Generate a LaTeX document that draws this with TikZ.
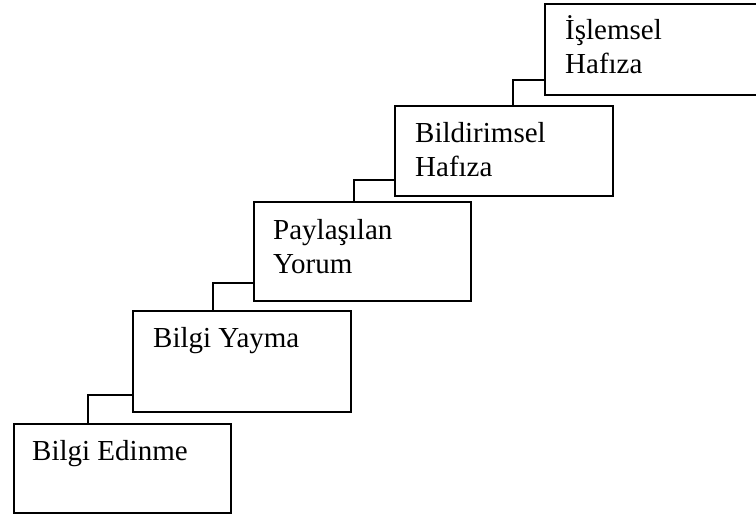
\documentclass[tikz,border=0pt]{standalone}
\usepackage{fontspec}
\setmainfont{Liberation Serif}
\usetikzlibrary{calc}
\begin{document}
\begin{tikzpicture}[x=1pt, y=-1pt,
  stage/.style={draw=black, line width=2.3pt, inner sep=0pt, anchor=north west,
    minimum width=217pt},
  lbl/.style={anchor=base west, inner sep=0pt, align=left,
    font=\fontsize{29pt}{34pt}\selectfont},
  link/.style={draw=black, line width=2.3pt}]
  \clip (0,0) rectangle (756,519);
  \fill[white] (0,0) rectangle (756,519);

  % stair of stage boxes, lowest first
  \node[stage, minimum height=89pt]  (b1) at (13,423) {};
  \node[stage, minimum height=101pt, minimum width=218pt] (b2) at (132,310) {};
  \node[stage, minimum height=99pt]  (b3) at (253,201) {};
  \node[stage, minimum height=90pt, minimum width=218pt]  (b4) at (394,105) {};
  \node[stage, minimum height=91pt]  (b5) at (544,3) {};

  % labels (two-line labels sit on the baseline of their last line)
  \node[lbl] (t1) at ($(b1.north west)+(19pt,-37pt)$) {Bilgi Edinme};
  \node[lbl] (t2) at ($(b2.north west)+(21pt,-37pt)$) {Bilgi Yayma};
  \node[lbl] (t3) at ($(b3.north west)+(20pt,-72pt)$) {Paylaşılan\\Yorum};
  \node[lbl] (t4) at ($(b4.north west)+(21pt,-71pt)$) {Bildirimsel\\Hafıza};
  \node[lbl] (t5) at ($(b5.north west)+(21pt,-71pt)$) {İşlemsel\\Hafıza};

  % elbow links from each box top to the next box's left side
  \draw[link] ($(b1.north west)+(75pt,0)$)  |- ($(b2.south west)+(0,18pt)$);
  \draw[link] ($(b2.north west)+(81pt,0)$)  |- ($(b3.south west)+(0,19pt)$);
  \draw[link] ($(b3.north west)+(101pt,0)$) |- ($(b4.south west)+(0,17pt)$);
  \draw[link] ($(b4.north west)+(119pt,0)$) |- ($(b5.south west)+(0,16pt)$);
\end{tikzpicture}
\end{document}
